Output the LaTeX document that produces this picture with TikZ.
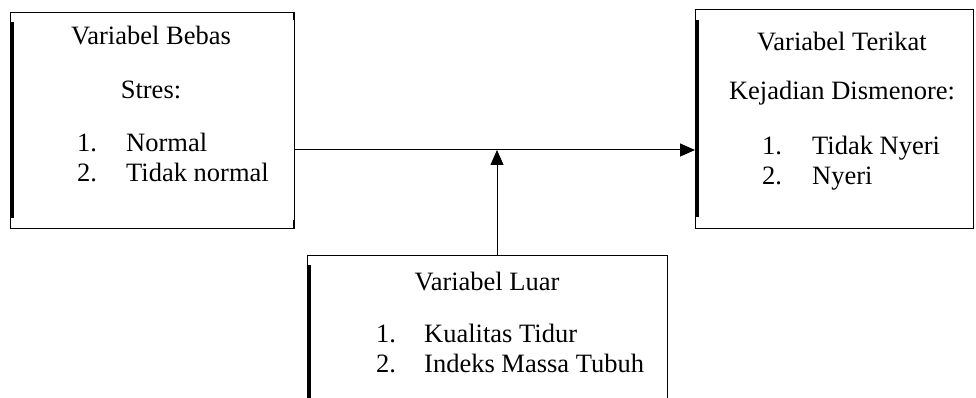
\documentclass[tikz,border=0pt]{standalone}
\usepackage{fontspec}
\setmainfont{Liberation Serif}
\usetikzlibrary{arrows.meta,calc}
\begin{document}
\begin{tikzpicture}[x=1pt,y=-1pt,
  frame/.style={draw=black,line width=1pt,inner sep=0pt},
  bar/.style={line width=3pt,draw=black},
  txt/.style={inner sep=0pt,font=\fontsize{26.5}{30}\selectfont},
  conn/.style={line width=1pt,-{Triangle[length=15pt,width=13pt]}}]
\useasboundingbox (0,0) rectangle (976,398);

% independent variable box
\node[frame,minimum width=284pt,minimum height=216pt,anchor=north west] (bebas) at (10,12) {};
\draw[bar] (12.5,22) -- (12.5,218);
\draw[line width=2pt] (293.5,12) -- (293.5,20) (293.5,220) -- (293.5,228);
\node[txt,anchor=base] (bebasT) at (151,45) {Variabel Bebas};
\node[txt,anchor=base] (bebasS) at (151,99) {Stres:};
\node[txt,anchor=base west] (bebasN1) at (77,152) {1.};
\node[txt,anchor=base west] (bebasI1) at (126,152) {Normal};
\node[txt,anchor=base west] (bebasN2) at (77,182) {2.};
\node[txt,anchor=base west] (bebasI2) at (126,182) {Tidak normal};

% dependent variable box
\node[frame,minimum width=278pt,minimum height=219pt,anchor=north west] (terikat) at (695,9) {};
\draw[bar] (697.5,20) -- (697.5,217);
\node[txt,anchor=base] (terikatT) at (842,51) {Variabel Terikat};
\node[txt,anchor=base] (terikatS) at (842,100) {Kejadian Dismenore:};
\node[txt,anchor=base west] (terikatN1) at (762,155) {1.};
\node[txt,anchor=base west] (terikatI1) at (812,155) {Tidak Nyeri};
\node[txt,anchor=base west] (terikatN2) at (762,185) {2.};
\node[txt,anchor=base west] (terikatI2) at (812,185) {Nyeri};

% external variable box (runs past the lower edge)
\node[frame,minimum width=360pt,minimum height=160pt,anchor=north west] (luar) at (307,255) {};
\draw[bar] (309.5,265) -- (309.5,400);
\node[txt,anchor=base] (luarT) at (487,290) {Variabel Luar};
\node[txt,anchor=base west] (luarN1) at (376,342) {1.};
\node[txt,anchor=base west] (luarI1) at (424,342) {Kualitas Tidur};
\node[txt,anchor=base west] (luarN2) at (376,372) {2.};
\node[txt,anchor=base west] (luarI2) at (424,372) {Indeks Massa Tubuh};

% connectors
\coordinate (mid) at (497,150);
\draw[conn] (bebas.east |- mid) -- (terikat.west |- mid);
\draw[conn] (luar.north -| mid) -- (mid);
\end{tikzpicture}
\end{document}
